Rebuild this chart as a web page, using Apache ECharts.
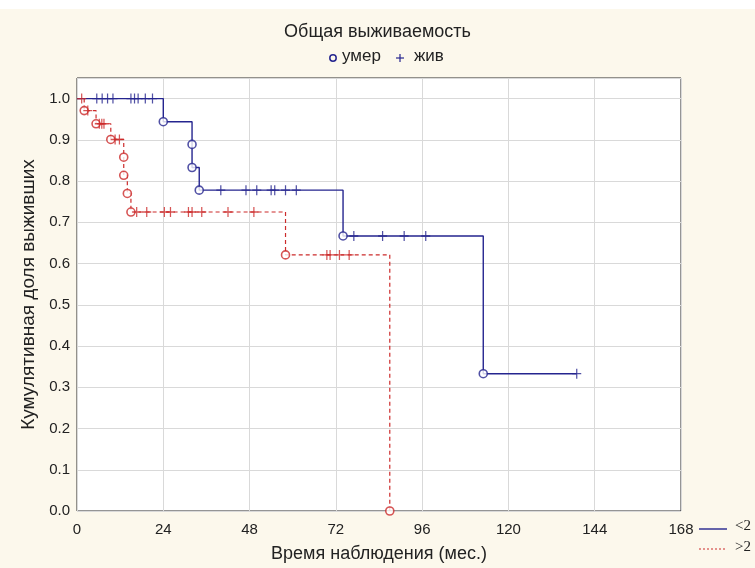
<!DOCTYPE html>
<html><head><meta charset="utf-8">
<script src="https://cdn.jsdelivr.net/npm/echarts@6/dist/echarts.min.js"></script>
<style>html,body{margin:0;padding:0;background:#fcf8ec}#c{width:755px;height:568px}</style>
</head><body><div id="c"></div>
<script>
// ---- data ----
const xTicks = [0, 24, 48, 72, 96, 120, 144, 168];
const yTicks = [0, 0.1, 0.2, 0.3, 0.4, 0.5, 0.6, 0.7, 0.8, 0.9, 1.0];
// group "<2" (blue)
const blueDeathT = [24, 32, 32, 34, 74, 113];
const blueDeathS = [0.944, 0.889, 0.833, 0.778, 0.667, 0.333];
const blueEndT = 139;
const blueCensT = [5.5, 7, 8.5, 10, 15, 16, 17, 19, 21, 40, 47, 50, 54, 55, 58, 61, 77, 85, 91, 97, 139];
const blueCensS = [1, 1, 1, 1, 1, 1, 1, 1, 1, 0.778, 0.778, 0.778, 0.778, 0.778, 0.778, 0.778, 0.667, 0.667, 0.667, 0.667, 0.333];
// group ">2" (red)
const redDeathT = [2, 5.3, 9.4, 13, 13, 14, 15, 58, 87];
const redDeathS = [0.971, 0.939, 0.901, 0.858, 0.814, 0.770, 0.725, 0.621, 0];
const redEndT = 87;
const redCensT = [1.3, 3, 6.2, 6.9, 7.5, 10.6, 11.8, 16.6, 19.4, 24.3, 26, 31, 32, 34.7, 42, 49.2, 69.5, 70.4, 73, 75.7];
const redCensS = [1, 0.971, 0.939, 0.939, 0.939, 0.901, 0.901, 0.725, 0.725, 0.725, 0.725, 0.725, 0.725, 0.725, 0.725, 0.725, 0.621, 0.621, 0.621, 0.621];

const BLUE = '#25258f', RED = '#cc2b2b';
const FONT = 'Liberation Sans, Arial, sans-serif';

function stepData(T, S, endT) {
  const d = [[0, 1]];
  T.forEach((t, i) => d.push([t, S[i]]));
  const last = d[d.length - 1];
  if (endT > last[0]) d.push([endT, last[1]]);
  return d;
}
function pts(T, S) { return T.map((t, i) => [t, S[i]]); }

const PLUS = 'path://M0,-5L0,5M-5,0L5,0';

const chart = echarts.init(document.getElementById('c'), null, {renderer: 'canvas'});
chart.setOption({
  backgroundColor: '#fcf8ec',
  animation: false,
  grid: {left: 77, right: 74, top: 78, bottom: 55, show: true, backgroundColor: '#ffffff', borderColor: '#2a2a2a', borderWidth: 1},
  xAxis: {
    type: 'value', min: xTicks[0], max: xTicks[xTicks.length - 1], interval: 24,
    name: 'Время наблюдения (мес.)', nameLocation: 'middle', nameGap: 34,
    nameTextStyle: {fontFamily: FONT, fontSize: 18, color: '#222'},
    axisLine: {show: false}, axisTick: {show: false},
    axisLabel: {fontFamily: FONT, fontSize: 15, color: '#222', margin: 11},
    splitLine: {show: true, lineStyle: {color: '#d9d9d9', width: 1}}
  },
  yAxis: {
    type: 'value', min: 0, max: 1.05, interval: 0.1,
    name: 'Кумулятивная доля выживших', nameLocation: 'middle', nameGap: 34,
    nameTextStyle: {fontFamily: FONT, fontSize: 19, color: '#222'},
    axisLine: {show: false}, axisTick: {show: false},
    axisLabel: {fontFamily: FONT, fontSize: 15, color: '#222', margin: 7,
      formatter: v => (yTicks.some(t => Math.abs(t - v) < 1e-6) ? v.toFixed(1) : '')},
    splitLine: {show: true, lineStyle: {color: '#d9d9d9', width: 1}}
  },
  series: [
    {type: 'line', name: '<2', step: 'end', showSymbol: false, data: stepData(blueDeathT, blueDeathS, blueEndT),
      lineStyle: {color: BLUE, width: 1.4}, z: 3},
    {type: 'line', name: '>2', step: 'end', showSymbol: false, data: stepData(redDeathT, redDeathS, redEndT),
      lineStyle: {color: RED, width: 1.2, type: [4, 3]}, z: 2},
    {type: 'scatter', name: 'умер', data: pts(blueDeathT, blueDeathS), symbol: 'circle', symbolSize: 8, clip: false,
      itemStyle: {color: '#ffffff', borderColor: BLUE, borderWidth: 1.6}, z: 5},
    {type: 'scatter', name: 'умер', data: pts(redDeathT, redDeathS), symbol: 'circle', symbolSize: 8, clip: false,
      itemStyle: {color: '#ffffff', borderColor: RED, borderWidth: 1.6}, z: 4},
    {type: 'scatter', name: 'жив', data: pts(blueCensT, blueCensS), symbol: PLUS, symbolSize: [9, 10],
      itemStyle: {color: 'none', borderColor: BLUE, borderWidth: 1.3}, z: 5},
    {type: 'scatter', name: 'жив', data: pts(redCensT, redCensS), symbol: PLUS, symbolSize: [9, 10],
      itemStyle: {color: 'none', borderColor: RED, borderWidth: 1.3}, z: 4}
  ],
  graphic: [
    {type: 'rect', left: 0, top: 0, shape: {width: 755, height: 9}, style: {fill: '#ffffff'}, silent: true},
    {type: 'text', left: 'center', top: 23, style: {text: 'Общая выживаемость', font: '18px ' + FONT, fill: '#222'}},
    {type: 'circle', shape: {cx: 333, cy: 58, r: 3.2}, style: {fill: 'none', stroke: BLUE, lineWidth: 1.5}},
    {type: 'text', left: 342, top: 48, style: {text: 'умер', font: '17px ' + FONT, fill: '#222'}},
    {type: 'polyline', shape: {points: [[400, 54], [400, 62]]}, style: {stroke: BLUE, lineWidth: 1.2}},
    {type: 'polyline', shape: {points: [[396, 58], [404, 58]]}, style: {stroke: BLUE, lineWidth: 1.2}},
    {type: 'text', left: 414, top: 48, style: {text: 'жив', font: '17px ' + FONT, fill: '#222'}},
    {type: 'polyline', shape: {points: [[699, 529], [727, 529]]}, style: {stroke: BLUE, lineWidth: 1.4}},
    {type: 'text', left: 735, top: 519, style: {text: '<2', font: '15px Liberation Serif, serif', fill: '#222'}},
    {type: 'polyline', shape: {points: [[699, 549], [727, 549]]}, style: {stroke: RED, lineWidth: 1, lineDash: [2, 2]}},
    {type: 'text', left: 735, top: 540, style: {text: '>2', font: '15px Liberation Serif, serif', fill: '#222'}}
  ]
});
</script></body></html>
